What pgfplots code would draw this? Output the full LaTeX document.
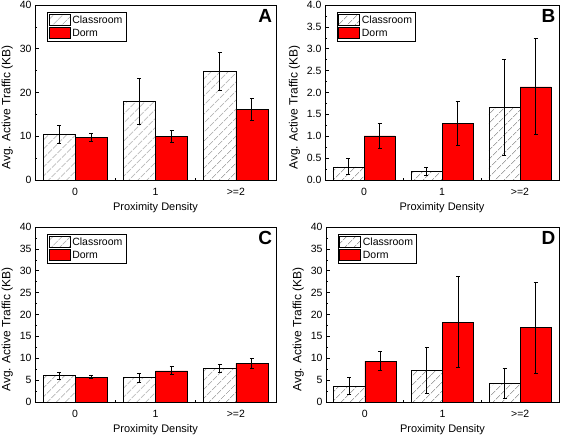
\documentclass[border=0pt]{standalone}
\usepackage{pgfplots}
\pgfplotsset{compat=1.18}
\usepackage{fontspec}
\setmainfont{Liberation Sans}
\usetikzlibrary{patterns.meta}

\pgfplotstableread{
x c ce d de
0 10.4 2.0 9.7 0.9
1 17.9 5.2 10.0 1.4
2 24.8 4.3 16.1 2.5
}\dataA
\pgfplotstableread{
x c ce d de
0 0.30 0.18 1.01 0.28
1 0.19 0.09 1.29 0.51
2 1.66 1.09 2.13 1.10
}\dataB
\pgfplotstableread{
x c ce d de
0 6.0 0.85 5.7 0.4
1 5.56 1.0 7.1 0.9
2 7.6 0.95 8.8 1.1
}\dataC
\pgfplotstableread{
x c ce d de
0 3.65 2.0 9.37 2.2
1 7.2 5.2 18.25 10.4
2 4.2 3.45 17.0 10.4
}\dataD

\tikzset{letter/.style={anchor=north east, inner sep=0pt, font=\bfseries\fontsize{19}{19}\selectfont}}
\pgfplotsset{
  panel/.style={
    scale only axis, height=175pt,
    ybar, bar width=0.4,
    xmin=-0.5, xmax=2.5,
    xtick={0,1,2}, xticklabels={0,1,>=2},
    minor xtick={0.5,1.5},
    ymin=0,
    minor y tick num=1,
    tick align=inside, tick pos=left,
    major tick length=4pt, minor tick length=2pt,
    tick style={black, line width=0.6pt},
    axis line style={line width=0.9pt},
    /pgf/number format/assume math mode=true,
    ticklabel style={font=\fontsize{10.5}{12}\selectfont},
    xticklabel style={yshift=-4.5pt},
    xlabel={Proximity Density},
    ylabel={Avg. Active Traffic (KB)},
    xlabel style={font=\fontsize{11}{13}\selectfont, yshift=-0.5pt},
    ylabel style={font=\fontsize{12}{14}\selectfont, at={(ticklabel cs:0.414)}},
    legend style={at={(0.05,0.96)}, anchor=north west, draw=black, line width=0.4pt,
      font=\fontsize{10.5}{12}\selectfont, inner sep=1.5pt, row sep=0pt,
      /tikz/every even column/.append style={column sep=1pt}},
    legend cell align=left,
    legend image code/.code={\draw[##1, line width=0.5pt] (0pt,-5.5pt) rectangle (21pt,5.5pt);},
    error bars/y dir=both, error bars/y explicit,
    error bars/error bar style={line width=1pt, black},
    error bars/error mark options={rotate=90, mark size=2pt, line width=1pt, black},
  },
  cls/.style={draw=black, line width=0.6pt, bar shift=-0.2,
    pattern={Lines[angle=45,distance=6.5pt,line width=0.6pt]}, pattern color=black!55},
  drm/.style={draw=black, line width=0.6pt, bar shift=0.2, fill=red},
}

\begin{document}
\begin{tikzpicture}[x=1pt,y=1pt]
\useasboundingbox (0,0) rectangle (567,435);

\begin{axis}[panel, at={(35pt,255pt)}, anchor=south west, width=241pt,
  ymax=40, ytick={0,10,...,40}]
\addplot[cls] table[x=x,y=c,y error=ce] {\dataA};
\addplot[drm] table[x=x,y=d,y error=de] {\dataA};
\legend{Classroom,Dorm}
\node[letter] at (rel axis cs:0.985,0.975) {A};
\end{axis}

\begin{axis}[panel, at={(325pt,255pt)}, anchor=south west, width=234pt,
  ymax=4, ytick={0,0.5,...,4},
  yticklabel style={/pgf/number format/.cd, fixed, fixed zerofill, precision=1}]
\addplot[cls] table[x=x,y=c,y error=ce] {\dataB};
\addplot[drm] table[x=x,y=d,y error=de] {\dataB};
\legend{Classroom,Dorm}
\node[letter] at (rel axis cs:0.985,0.975) {B};
\end{axis}

\begin{axis}[panel, at={(35pt,33pt)}, anchor=south west, width=241pt,
  ymax=40, ytick={0,5,...,40}]
\addplot[cls] table[x=x,y=c,y error=ce] {\dataC};
\addplot[drm] table[x=x,y=d,y error=de] {\dataC};
\legend{Classroom,Dorm}
\node[letter] at (rel axis cs:0.985,0.975) {C};
\end{axis}

\begin{axis}[panel, at={(326pt,33pt)}, anchor=south west, width=233pt,
  ymax=40, ytick={0,5,...,40}]
\addplot[cls] table[x=x,y=c,y error=ce] {\dataD};
\addplot[drm] table[x=x,y=d,y error=de] {\dataD};
\legend{Classroom,Dorm}
\node[letter] at (rel axis cs:0.985,0.975) {D};
\end{axis}
\end{tikzpicture}
\end{document}
